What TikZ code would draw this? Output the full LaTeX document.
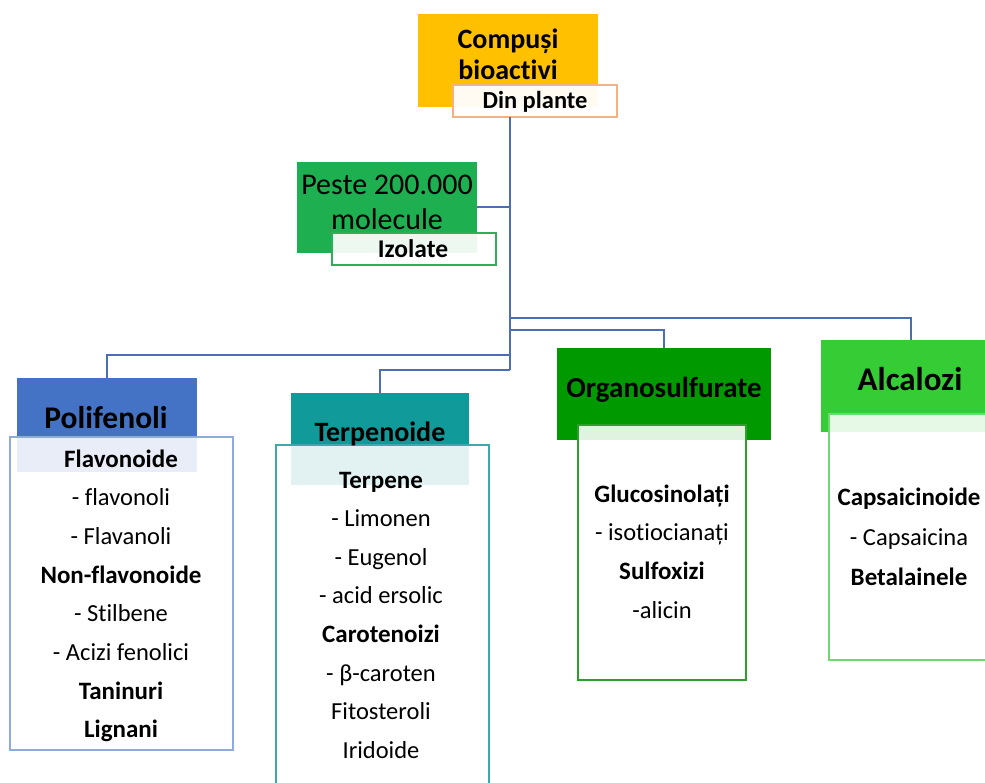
\documentclass[tikz,border=0pt]{standalone}
\usepackage{fontspec}
\setmainfont[Ligatures=NoCommon]{Carlito}
\definecolor{orangeC}{HTML}{FFC000}
\definecolor{dinB}{HTML}{F4B183}
\definecolor{pesteG}{HTML}{1DAF50}
\definecolor{izoB}{HTML}{2EAF5A}
\definecolor{connC}{HTML}{4A6FB5}
\definecolor{poliC}{HTML}{4472C4}
\definecolor{poliB}{HTML}{8FAADC}
\definecolor{terpC}{HTML}{119A9A}
\definecolor{terpB}{HTML}{3FA9A9}
\definecolor{orgC}{HTML}{009A00}
\definecolor{orgB}{HTML}{2E9E2E}
\definecolor{alcC}{HTML}{36CC36}
\definecolor{alcB}{HTML}{70D870}
\tikzset{
  conn/.style={draw=connC, line width=1.1pt},
  content/.style={rectangle, fill=white, fill opacity=0.88, line width=1.1pt, inner sep=0pt},
  itm/.style={inner sep=0pt, anchor=base, font=\fontsize{24.5}{28}\selectfont},
  itmb/.style={inner sep=0pt, anchor=base, font=\fontsize{25}{28}\selectfont\bfseries},
  lbl/.style={inner sep=0pt, anchor=base},
}
\begin{document}
\begin{tikzpicture}[x=1pt,y=-1pt]
\useasboundingbox (0,0) rectangle (985,782);
\fill[white] (0,0) rectangle (985,782);

% top box
\node[fill=orangeC, minimum width=180, minimum height=93, inner sep=0pt] (top) at (508,60) {};
\node[lbl, font=\fontsize{28}{32}\selectfont\bfseries] (toptxt1) at (508,48) {Compuși};
\node[lbl, font=\fontsize{28}{32}\selectfont\bfseries] (toptxt2) at (508,79) {bioactivi};
\node[fill=white, fill opacity=0.95, draw=dinB, line width=1.1pt, minimum width=164, minimum height=32, inner sep=0pt] (din) at (535,101) {};
\node[lbl, font=\fontsize{24.5}{28}\selectfont\bfseries] (dintxt) at (535,108) {Din plante};

% trunk
\coordinate (t0) at (510,117);
\coordinate (j1) at (510,318);
\coordinate (j2) at (510,330);
\coordinate (j3) at (510,355);
\coordinate (j4) at (510,370);
\draw[conn] (t0) -- (j4);

% peste box
\node[fill=pesteG, minimum width=180, minimum height=91, inner sep=0pt] (peste) at (387,207) {};
\node[lbl, font=\fontsize{30}{34}\selectfont] (pestetxt1) at (387,194) {Peste 200.000};
\node[lbl, font=\fontsize{30}{34}\selectfont] (pestetxt2) at (387,229) {molecule};
\node[fill=white, fill opacity=0.92, draw=izoB, line width=1.1pt, minimum width=164, minimum height=32, inner sep=0pt] (izo) at (414,249) {};
\node[lbl, font=\fontsize{25.5}{28}\selectfont\bfseries] (izotxt) at (413,257) {Izolate};
\draw[conn] (peste.east) -- (peste.east -| t0);

% headers
\node[fill=poliC, minimum width=180, minimum height=94, inner sep=0pt] (poliH) at (107,425) {};
\node[fill=terpC, minimum width=178, minimum height=92, inner sep=0pt] (terpH) at (380,439) {};
\node[fill=orgC, minimum width=214, minimum height=92, inner sep=0pt] (orgH) at (664,394) {};
\node[fill=alcC, minimum width=180, minimum height=92, inner sep=0pt] (alcH) at (911,386) {};

% connectors
\draw[conn] (j1) -| (alcH.north);
\draw[conn] (j2) -| (orgH.north);
\draw[conn] (j3) -| (poliH.north);
\draw[conn] (j4) -| (terpH.north);

% content boxes
\path[content, draw=poliB] (10,437) rectangle (233,750);
\path[content, draw=terpB] (276,445) rectangle (489,790);
\path[content, draw=orgB] (578,425) rectangle (746,680);
\path[content, draw=alcB] (829,414) rectangle (992,660);

% header texts
\node[lbl, font=\fontsize{31.5}{36}\selectfont\bfseries] (poliT) at (106,428) {Polifenoli};
\node[lbl, font=\fontsize{28}{32}\selectfont\bfseries] (terpT) at (380,441) {Terpenoide};
\node[lbl, font=\fontsize{29}{32}\selectfont\bfseries] (orgT) at (664,397) {Organosulfurate};
\node[lbl, font=\fontsize{33}{36}\selectfont\bfseries] (alcT) at (910,390) {Alcalozi};

% Polifenoli list
\node[itmb] (p1) at (121,467) {Flavonoide};
\node[itm]  (p2) at (121,505.7) {- flavonoli};
\node[itm]  (p3) at (121,544.4) {- Flavanoli};
\node[itmb] (p4) at (121,583.1) {Non-flavonoide};
\node[itm]  (p5) at (121,621.8) {- Stilbene};
\node[itm]  (p6) at (121,660.5) {- Acizi fenolici};
\node[itmb] (p7) at (121,699.2) {Taninuri};
\node[itmb] (p8) at (121,737.9) {Lignani};

% Terpenoide list
\node[itmb] (q1) at (381,488) {Terpene};
\node[itm]  (q2) at (381,526.6) {- Limonen};
\node[itm]  (q3) at (381,565.2) {- Eugenol};
\node[itm]  (q4) at (381,603.8) {- acid ersolic};
\node[itmb] (q5) at (381,642.4) {Carotenoizi};
\node[itm]  (q6) at (381,681) {- β-caroten};
\node[itm]  (q7) at (381,719.6) {Fitosteroli};
\node[itm]  (q8) at (381,758.2) {Iridoide};

% Organosulfurate list
\node[itmb] (r1) at (662,502) {Glucosinolați};
\node[itm]  (r2) at (662,540.7) {- isotiocianați};
\node[itmb] (r3) at (662,579.4) {Sulfoxizi};
\node[itm]  (r4) at (662,618.1) {-alicin};

% Alcalozi list
\node[itmb] (s1) at (909,505) {Capsaicinoide};
\node[itm]  (s2) at (909,545) {- Capsaicina};
\node[itmb] (s3) at (909,585) {Betalainele};
\end{tikzpicture}
\end{document}
